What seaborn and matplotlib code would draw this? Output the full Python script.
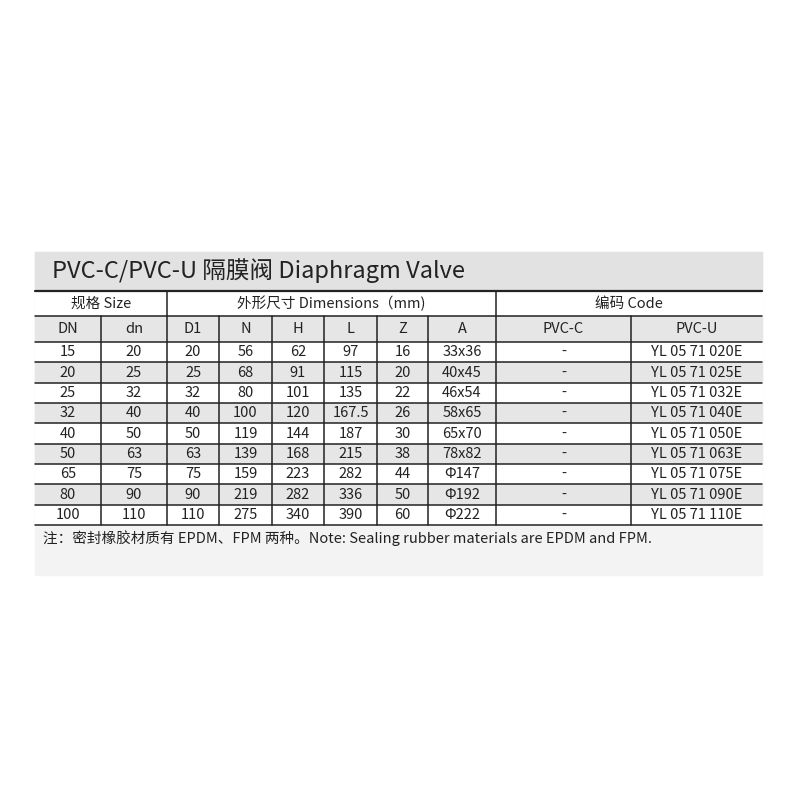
import matplotlib
matplotlib.use("Agg")
import matplotlib.pyplot as plt
import seaborn as sns
from matplotlib.patches import Rectangle

sns.set_theme(style="white")
plt.rcParams['font.family'] = ['Noto Sans CJK SC', 'DejaVu Sans']

title = "PVC-C/PVC-U 隔膜阀 Diaphragm Valve"
group_headers = ["规格 Size", "外形尺寸 Dimensions（mm)", "编码 Code"]
col_headers = ["DN", "dn", "D1", "N", "H", "L", "Z", "A", "PVC-C", "PVC-U"]
DN = ["15", "20", "25", "32", "40", "50", "65", "80", "100"]
dn = ["20", "25", "32", "40", "50", "63", "75", "90", "110"]
D1 = ["20", "25", "32", "40", "50", "63", "75", "90", "110"]
N = ["56", "68", "80", "100", "119", "139", "159", "219", "275"]
H = ["62", "91", "101", "120", "144", "168", "223", "282", "340"]
L = ["97", "115", "135", "167.5", "187", "215", "282", "336", "390"]
Z = ["16", "20", "22", "26", "30", "38", "44", "50", "60"]
A = ["33x36", "40x45", "46x54", "58x65", "65x70", "78x82", "Φ147", "Φ192", "Φ222"]
PVCC = ["-"] * 9
PVCU = ["YL 05 71 020E", "YL 05 71 025E", "YL 05 71 032E", "YL 05 71 040E",
        "YL 05 71 050E", "YL 05 71 063E", "YL 05 71 075E", "YL 05 71 090E",
        "YL 05 71 110E"]
note = "注：密封橡胶材质有 EPDM、FPM 两种。Note: Sealing rubber materials are EPDM and FPM."
columns = [DN, dn, D1, N, H, L, Z, A, PVCC, PVCU]

fig = plt.figure(figsize=(8, 8), dpi=100)
ax = fig.add_axes([0, 0, 1, 1])
ax.set_xlim(0, 800)
ax.set_ylim(800, 0)
ax.axis("off")

X0, X1 = 35, 762
xs = [X0, 101, 167, 219, 272, 324, 377, 428, 496, 631, X1]
gray = "#e6e6e6"
# card background
ax.add_patch(Rectangle((X0, 252), X1 - X0, 323, color="#f3f3f3", zorder=0))
ax.add_patch(Rectangle((X0, 252), X1 - X0, 39, color="#e2e2e2", zorder=1))
ax.text(52, 271, title, fontsize=17, va="center", ha="left", color="#222222", zorder=5)

ys = [291, 316, 342] + [342 + 20.35 * (i + 1) for i in range(9)]
# row backgrounds
ax.add_patch(Rectangle((X0, 291), X1 - X0, 25, color="white", zorder=1))
ax.add_patch(Rectangle((X0, 316), X1 - X0, 26, color=gray, zorder=1))
for i in range(9):
    c = gray if i % 2 == 1 else "white"
    ax.add_patch(Rectangle((X0, ys[2 + i]), X1 - X0, ys[3 + i] - ys[2 + i], color=c, zorder=1))

for y in ys:
    ax.plot([X0, X1], [y, y], color="#222222", lw=1.6 if y == 291 else 1.1, zorder=3)
for x in xs[1:-1]:
    ax.plot([x, x], [316, ys[-1]], color="#222222", lw=1.1, zorder=3)
for x in (167, 496):
    ax.plot([x, x], [291, 316], color="#222222", lw=1.1, zorder=3)

fs = 10.5
tc = "#222222"
ax.text((X0 + 167) / 2, 303.5, group_headers[0], fontsize=fs, ha="center", va="center", color=tc, zorder=5)
ax.text((167 + 496) / 2, 303.5, group_headers[1], fontsize=fs, ha="center", va="center", color=tc, zorder=5)
ax.text((496 + X1) / 2, 303.5, group_headers[2], fontsize=fs, ha="center", va="center", color=tc, zorder=5)
for j, h in enumerate(col_headers):
    ax.text((xs[j] + xs[j + 1]) / 2, 329, h, fontsize=fs, ha="center", va="center", color=tc, zorder=5)
for j, col in enumerate(columns):
    for i, v in enumerate(col):
        yc = (ys[2 + i] + ys[3 + i]) / 2
        ax.text((xs[j] + xs[j + 1]) / 2, yc, v, fontsize=fs, ha="center", va="center", color=tc, zorder=5)

ax.text(43, 538, note, fontsize=10.5, ha="left", va="center", color=tc, zorder=5)

fig.savefig("out.png", dpi=100, facecolor="white")
